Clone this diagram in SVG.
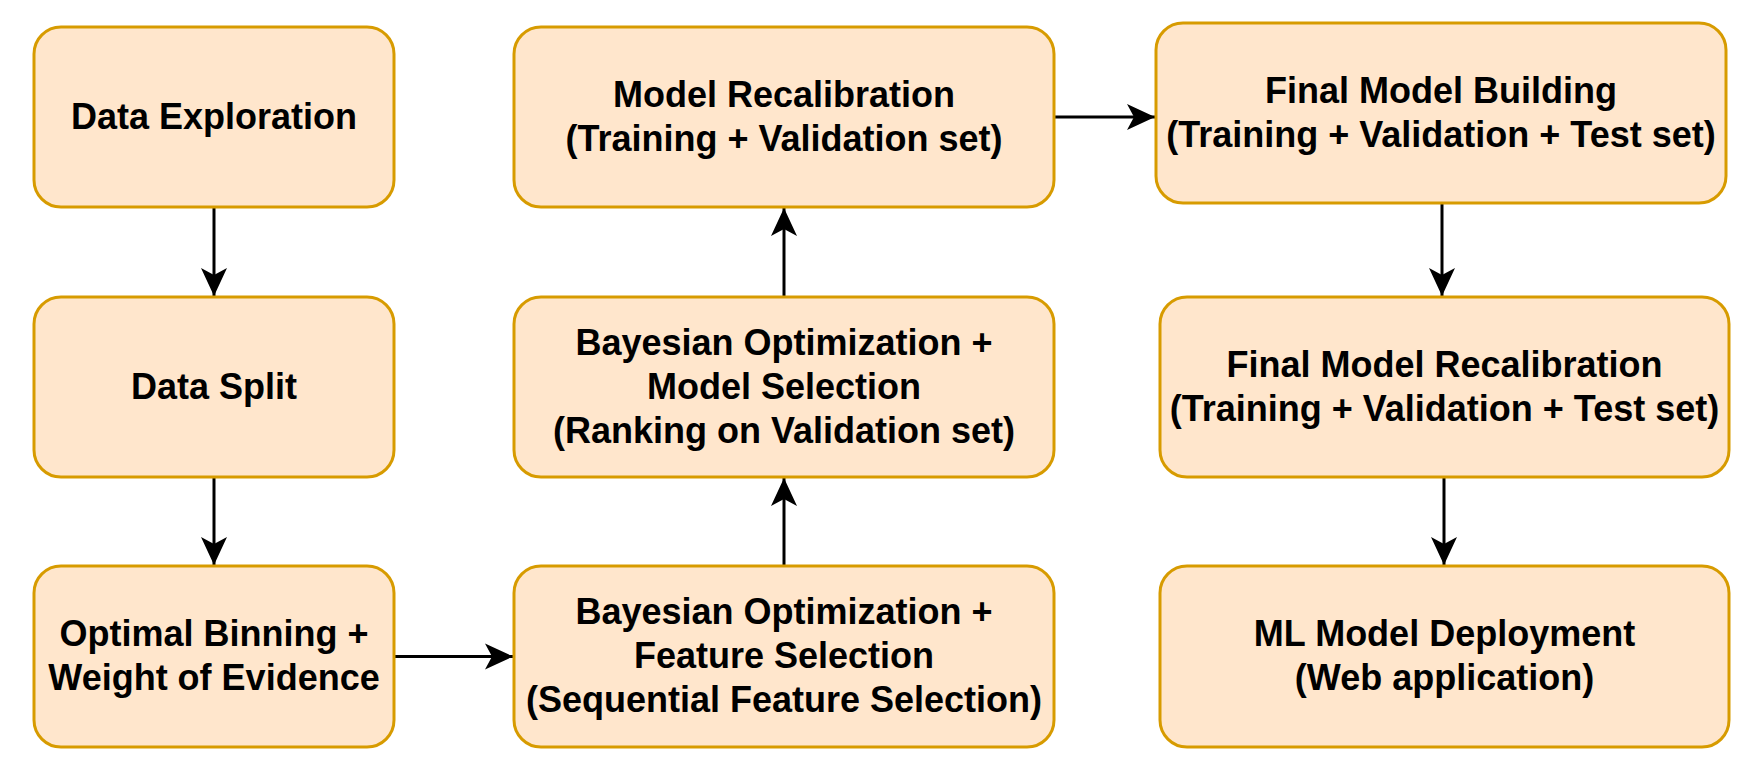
<svg xmlns="http://www.w3.org/2000/svg" width="1756" height="770" viewBox="0 0 1756 770">
<style>
.box{fill:#ffe6cc;stroke:#d79b00;stroke-width:3}
.t{font-family:"Liberation Sans",Arial,sans-serif;font-weight:bold;font-size:36px;fill:#000;text-anchor:middle}
.c{stroke:#000;stroke-width:3;fill:none;marker-end:url(#arr)}
</style>
<defs>
<marker id="arr" markerUnits="userSpaceOnUse" markerWidth="30" markerHeight="30" viewBox="-30 -15 30 30" refX="0" refY="0" orient="auto">
<path d="M0,0 L-28,-13 L-21,0 L-28,13 Z" fill="#000"/>
</marker>
</defs>
<rect width="1756" height="770" fill="#fff"/>
<g id="connectors">
<line class="c" x1="214" y1="207" x2="214" y2="296"/>
<line class="c" x1="214" y1="477" x2="214" y2="565"/>
<line class="c" x1="394" y1="656.5" x2="513" y2="656.5"/>
<line class="c" x1="784" y1="566" x2="784" y2="478"/>
<line class="c" x1="784" y1="297" x2="784" y2="208"/>
<line class="c" x1="1054" y1="117" x2="1155" y2="117"/>
<line class="c" x1="1442" y1="203" x2="1442" y2="296"/>
<line class="c" x1="1444" y1="477" x2="1444" y2="565"/>
</g>
<g id="n1">
<rect class="box" x="34" y="27" width="360" height="180" rx="27"/>
<text class="t" x="214" y="128.5">Data Exploration</text>
</g>
<g id="n2">
<rect class="box" x="34" y="297" width="360" height="180" rx="27"/>
<text class="t" x="214" y="398.5">Data Split</text>
</g>
<g id="n3">
<rect class="box" x="34" y="566" width="360" height="181" rx="27"/>
<text class="t" x="214" y="646">Optimal Binning +</text>
<text class="t" x="214" y="690">Weight of Evidence</text>
</g>
<g id="n4">
<rect class="box" x="514" y="27" width="540" height="180" rx="27"/>
<text class="t" x="784" y="106.5">Model Recalibration</text>
<text class="t" x="784" y="150.5">(Training + Validation set)</text>
</g>
<g id="n5">
<rect class="box" x="514" y="297" width="540" height="180" rx="27"/>
<text class="t" x="784" y="354.5">Bayesian Optimization +</text>
<text class="t" x="784" y="398.5">Model Selection</text>
<text class="t" x="784" y="442.5">(Ranking on Validation set)</text>
</g>
<g id="n6">
<rect class="box" x="514" y="566" width="540" height="181" rx="27"/>
<text class="t" x="784" y="624">Bayesian Optimization +</text>
<text class="t" x="784" y="668">Feature Selection</text>
<text class="t" x="784" y="712">(Sequential Feature Selection)</text>
</g>
<g id="n7">
<rect class="box" x="1156" y="23" width="570" height="180" rx="27"/>
<text class="t" x="1441" y="102.5">Final Model Building</text>
<text class="t" x="1441" y="146.5">(Training + Validation + Test set)</text>
</g>
<g id="n8">
<rect class="box" x="1160" y="297" width="569" height="180" rx="27"/>
<text class="t" x="1444.5" y="376.5">Final Model Recalibration</text>
<text class="t" x="1444.5" y="420.5">(Training + Validation + Test set)</text>
</g>
<g id="n9">
<rect class="box" x="1160" y="566" width="569" height="181" rx="27"/>
<text class="t" x="1444.5" y="646">ML Model Deployment</text>
<text class="t" x="1444.5" y="690">(Web application)</text>
</g>
</svg>
